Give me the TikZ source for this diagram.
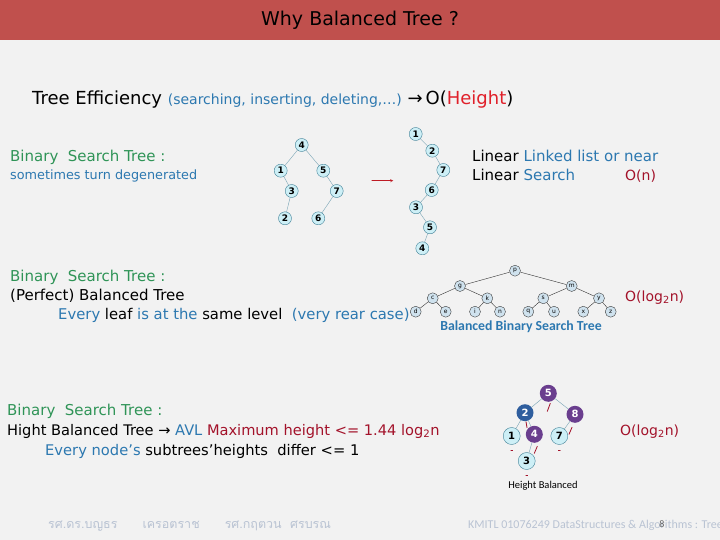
\documentclass[tikz,border=0pt]{standalone}
\usepackage{fontspec}
\usetikzlibrary{calc}
\setmainfont{DejaVu Sans}
\newfontfamily\capfont{Carlito}
\newfontfamily\thaifont[Script=Thai]{Loma}
\newcommand\fsz[1]{\fontsize{#1}{#1}\selectfont}
\definecolor{slidebg}{HTML}{F2F2F2}
\definecolor{titlered}{HTML}{C0504D}
\definecolor{tblue}{HTML}{2C78B0}
\definecolor{tgreen}{HTML}{2F9457}
\definecolor{hred}{HTML}{E0202A}
\definecolor{dred}{HTML}{A3122A}
\definecolor{cyanfill}{HTML}{CDEFF6}
\definecolor{cyanline}{HTML}{3F7F95}
\definecolor{bstfill}{HTML}{CFE2EE}
\definecolor{avlpurple}{HTML}{6A3E8E}
\definecolor{avlblue}{HTML}{2F5E9E}
\definecolor{footgray}{HTML}{B9C3D3}
\tikzset{
  txt/.style={anchor=base west, inner sep=0pt},
  cnode/.style={circle, draw=cyanline, fill=cyanfill, inner sep=0pt, minimum size=13pt, font=\bfseries\fsz{9}},
  bnode/.style={circle, draw=black!75, fill=bstfill, inner sep=0pt, minimum size=11pt, font=\fsz{6}},
  anode/.style={circle, inner sep=0pt, minimum size=17pt, font=\bfseries\fsz{10}},
  tedge/.style={draw=cyanline!70, thin},
  bedge/.style={draw=black!80, thin},
  bfmark/.style={draw=dred, thick}
}
\begin{document}
\begin{tikzpicture}[x=1pt, y=-1pt, line join=round, line cap=round, >=stealth]
\fill[slidebg] (0,0) rectangle (720,540);
\useasboundingbox (0,0) rectangle (720,540);
\fill[titlered] (0,0) rectangle (720,40);
\node[font=\fsz{19}] (title) at (360,20) {Why Balanced Tree ?};

\node[txt] (eff) at (32,105) {\fsz{18}Tree Efficiency \textcolor{tblue}{\fsz{14}(searching, inserting, deleting,\dots)} →\,O(\textcolor{hred}{Height})};

\node[txt, text=tgreen, font=\fsz{15}] (bst1) at (10,162) {Binary\ \ Search Tree :};
\node[txt, text=tblue, font=\fsz{12.8}] (degen) at (10,180) {sometimes turn degenerated};

\node[cnode] (a4) at (301.7,145) {4};
\node[cnode] (a1) at (280.7,170.7) {1}; \node[cnode] (a5) at (323.3,170.7) {5};
\node[cnode] (a3) at (291.7,191) {3};   \node[cnode] (a7) at (336.7,191) {7};
\node[cnode] (a2) at (285,218.3) {2};   \node[cnode] (a6) at (318.3,218.3) {6};
\draw[tedge] (a4)--(a1) (a4)--(a5) (a1)--(a3) (a3)--(a2) (a5)--(a7) (a7)--(a6);

\coordinate (arrS) at (371.7,180.7); \coordinate (arrE) at (393.3,180.7);
\draw[->, hred!85!black] (arrS) -- (arrE);

\node[cnode] (b1) at (415.7,134) {1};
\node[cnode] (b2) at (432.3,150.7) {2};
\node[cnode] (b7) at (443.3,170) {7};
\node[cnode] (b6) at (431.7,190) {6};
\node[cnode] (b3) at (416,207.3) {3};
\node[cnode] (b5) at (430,227.3) {5};
\node[cnode] (b4) at (422.3,248.3) {4};
\draw[tedge] (b1)--(b2)--(b7)--(b6)--(b3)--(b5)--(b4);

\node[txt, font=\fsz{15}] (lin1) at (472,162) {Linear \textcolor{tblue}{Linked list or near}};
\node[txt, font=\fsz{15}] (lin2) at (472,181) {Linear \textcolor{tblue}{Search}};
\node[txt, font=\fsz{14}, text=dred] (on) at (625,181) {O(n)};

\node[txt, text=tgreen, font=\fsz{15}] (bst2) at (10,281) {Binary\ \ Search Tree :};
\node[txt, font=\fsz{15}] (perf) at (10,300) {(Perfect) Balanced Tree};
\node[txt, font=\fsz{14.8}] (leaf) at (58,319) {\textcolor{tblue}{Every} leaf \textcolor{tblue}{is at the} same level\ \ \textcolor{tblue}{(very rear case)}};

\node[bnode] (p) at (515,270.7) {p};
\node[bnode] (g) at (460,286) {g};     \node[bnode] (m) at (571.7,286) {m};
\node[bnode] (c) at (432.7,298.3) {c}; \node[bnode] (k) at (487.3,298.3) {k};
\node[bnode] (s) at (543.3,298.3) {s}; \node[bnode] (y) at (599,298.3) {y};
\node[bnode] (d) at (415.7,311.7) {d}; \node[bnode] (e) at (445.7,311.7) {e};
\node[bnode] (i) at (475,311.7) {i};   \node[bnode] (n) at (500,311.7) {n};
\node[bnode] (q) at (528.3,311.7) {q}; \node[bnode] (u) at (554,311.7) {u};
\node[bnode] (x) at (583.3,311.7) {x}; \node[bnode] (z) at (610.7,311.7) {z};
\draw[bedge] (p)--(g) (p)--(m) (g)--(c) (g)--(k) (m)--(s) (m)--(y)
  (c)--(d) (c)--(e) (k)--(i) (k)--(n) (s)--(q) (s)--(u) (y)--(x) (y)--(z);
\node[font=\capfont\bfseries\fsz{13.8}, text=tblue] (bcap) at (521,327) {Balanced Binary Search Tree};
\node[txt, font=\fsz{14}, text=dred] (olog1) at (625,301) {O(log\textsubscript{2}n)};

\node[txt, text=tgreen, font=\fsz{15}] (bst3) at (7,415) {Binary\ \ Search Tree :};
\node[txt, font=\fsz{14.6}] (hight) at (7,435) {Hight Balanced Tree → \textcolor{tblue}{AVL} \textcolor{dred}{Maximum height <= 1.44 log\textsubscript{2}n}};
\node[txt, font=\fsz{14.7}] (diff) at (45,455) {\textcolor{tblue}{Every node’s} subtrees’heights\ \ differ <= 1};

\node[anode, fill=avlpurple, text=white] (v5) at (548.3,393.3) {5};
\node[anode, fill=avlblue, text=white] (v2) at (525,412.7) {2};
\node[anode, fill=avlpurple, text=white] (v8) at (575,414.3) {8};
\node[anode, draw=cyanline, fill=cyanfill] (v1) at (511.7,436) {1};
\node[anode, fill=avlpurple, text=white] (v4) at (534.3,434.3) {4};
\node[anode, draw=cyanline, fill=cyanfill] (v7) at (559.3,436) {7};
\node[anode, draw=cyanline, fill=cyanfill] (v3) at (526.7,461) {3};
\draw[tedge] (v5)--(v2) (v5)--(v8) (v2)--(v1) (v2)--(v4) (v4)--(v3) (v8)--(v7);
\draw[bfmark] ($(v5)+(2,10)$) -- ($(v5)+(-1,18)$)
  ($(v8)+(-3,13)$) -- ($(v8)+(-6,20)$)
  ($(v4)+(3,12)$) -- ($(v4)+(0,19)$)
  ($(v2)+(1,9)$) -- ($(v2)+(2,15)$);
\draw[bfmark, thin] ($(v1)+(-1,14)$) -- ($(v1)+(1,14)$)
  ($(v7)+(-1,14)$) -- ($(v7)+(1,14)$)
  ($(v3)+(-1,14)$) -- ($(v3)+(1,14)$);
\node[font=\capfont\fsz{10.5}] (hbal) at (543,486) {Height Balanced};
\node[txt, font=\fsz{14}, text=dred] (olog2) at (620,435) {O(log\textsubscript{2}n)};

\node[txt, font=\thaifont\fsz{12.5}, text=footgray] (authors) at (48,528) {รศ.ดร.บญธร\quad\quad เครอตราช\quad\quad รศ.กฤตวน\ \ ศรบรณ};
\node[txt, font=\capfont\fsz{12}, text=footgray] (course) at (468,528) {KMITL 01076249 DataStructures \& Algorithms : Tree};
\node[font=\capfont\fsz{10}, text=black!60] (pgno) at (662,524) {8};
\end{tikzpicture}
\end{document}
